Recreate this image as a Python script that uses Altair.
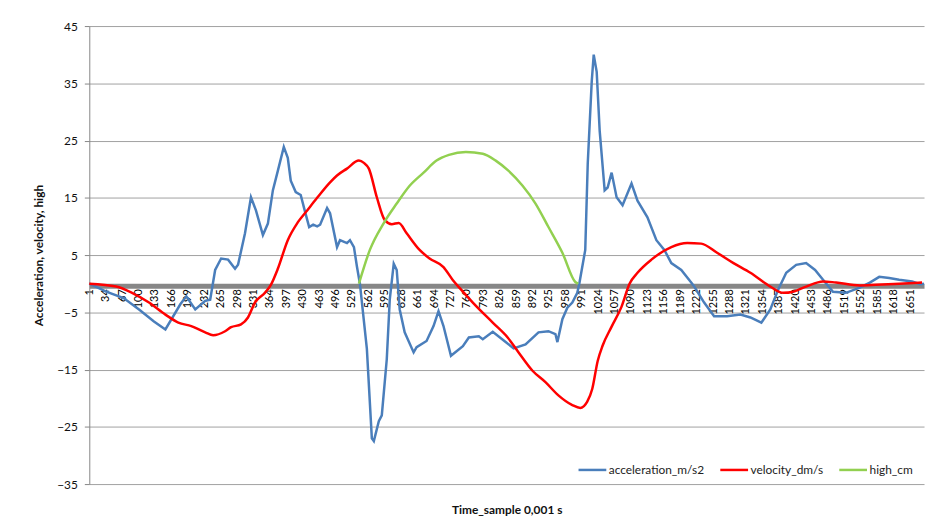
import altair as alt
import pandas as pd

# ---- data ----
acc_s = [1, 35, 70, 101, 131, 154, 184, 196, 214, 234, 244, 254, 266, 280, 294, 300, 314, 326, 336, 350,
         360, 370, 380, 392, 400, 406, 416, 426, 434, 443, 451, 459, 465, 479, 485, 499, 505, 519, 525, 533,
         539, 545, 559, 569, 573, 583, 589, 599, 605, 613, 619, 625, 635, 653, 659, 679, 693, 703, 713, 728,
         752, 764, 784, 792, 812, 838, 854, 878, 904, 924, 938, 942, 952, 962, 972, 982, 986, 998, 1003, 1011,
         1015, 1021, 1027, 1037, 1043, 1051, 1061, 1073, 1091, 1103, 1123, 1141, 1157, 1171, 1191, 1211, 1217,
         1237, 1257, 1283, 1310, 1330, 1352, 1370, 1386, 1402, 1422, 1442, 1460, 1476, 1496, 1522, 1550, 1570,
         1589, 1609, 1629, 1655, 1671, 1679]
acc_v = [0, -1.4, -2.5, -4.5, -6.6, -8, -3.6, -2.2, -4.5, -3, -2.8, 2.4, 4.4, 4.2, 2.6, 3.3, 8.8, 15.1, 12.8, 8.5,
         10.5, 16.3, 19.7, 23.9, 22, 18, 16, 15.5, 12.8, 9.9, 10.3, 10.0, 10.3, 13.2, 12.3, 6.4, 7.6, 7.1, 7.6, 6.4,
         3, 0, -11.4, -27, -27.5, -24, -23, -13.2, -2.8, 3.5, 2.4, -4.5, -8.5, -12, -11.1, -10, -7.4, -4.8, -7.4, -12.6,
         -10.9, -9.4, -9.2, -9.7, -8.4, -10.2, -11.3, -10.6, -8.5, -8.3, -8.8, -10.2, -6.2, -4.2, -3.3, -1.6, 0, 5.9, 21, 35.3,
         40, 37, 26.7, 16.3, 16.8, 19.4, 15.1, 13.7, 17.5, 14.5, 11.6, 7.6, 5.9, 3.6, 2.4, 0.2, -0.5,
         -3.3, -5.7, -5.7, -5.4, -5.9, -6.8, -4.5, -1, 1.9, 3.3, 3.6, 2.4, 0.7, -1.4, -1.6, -0.7, 0.2,
         1.2, 1.0, 0.7, 0.4, -0.1, 0]

vel_s = [1, 55, 87, 121, 154, 180, 206, 234, 250, 274, 286, 306, 320, 334, 354, 366, 380, 400, 420, 439,
         459, 485, 499, 519, 543, 553, 563, 579, 595, 609, 623, 639, 665, 685, 713, 732, 748, 772, 812, 842,
         864, 892, 918, 944, 972, 988, 1002, 1012, 1023, 1033, 1051, 1071, 1087, 1103, 1131, 1171, 1203, 1231,
         1263, 1296, 1330, 1370, 1396, 1416, 1442, 1476, 1502, 1550, 1582, 1629, 1675]
vel_v = [0, -0.5, -1.6, -3.3, -5.4, -6.8, -7.4, -8.5, -9, -8.3, -7.6, -7.1, -5.9, -3.3, -1.6, -0.2, 2.6, 7.6, 10.7, 12.8,
         15, 17.7, 18.9, 20.1, 21.5, 21.1, 20.1, 15.1, 11.1, 10.4, 10.6, 8.8, 5.9, 4.4, 2.9, 0.6, -1, -3.3, -6.8, -9.4,
         -12, -15.2, -17.2, -19.5, -21.2, -21.7, -20.6, -18.4, -13.5, -10.8, -7.5, -4, 0, 1.9, 4.2, 6.4, 7.1, 7.0,
         5.4, 3.6, 1.9, -0.5, -1.6, -1.4, -0.5, 0.4, 0.2, -0.3, -0.2, 0, 0.2]

high_s = [543, 565, 593, 619, 645, 673, 699, 724, 758, 792, 818, 844, 872, 898, 924, 952, 978, 984]
high_v = [0, 5.9, 10.6, 14, 17.1, 19.4, 21.5, 22.5, 23, 22.7, 21.5, 19.7, 17.1, 14, 9.9, 5.4, 0.3, 0]

x_ticks = [1, 34, 67, 100, 133, 166, 199, 232, 265, 298, 331, 364, 397, 430, 463, 496, 529, 562, 595, 628,
           661, 694, 727, 760, 793, 826, 859, 892, 925, 958, 991, 1024, 1057, 1090, 1123, 1156, 1189, 1222,
           1255, 1288, 1321, 1354, 1387, 1420, 1453, 1486, 1519, 1552, 1585, 1618, 1651]
y_ticks = [-35, -25, -15, -5, 5, 15, 25, 35, 45]

series_names = ["acceleration_m/s2", "velocity_dm/s", "high_cm"]
series_colors = ["#4a7ebb", "#ff0000", "#92d050"]

rows = []
for name, ss, vv in zip(series_names, [acc_s, vel_s, high_s], [acc_v, vel_v, high_v]):
    for s, v in zip(ss, vv):
        rows.append({"series": name, "sample": s, "value": v})
df = pd.DataFrame(rows)

FONT = "Lato"

x_enc = alt.X(
    "sample:Q",
    scale=alt.Scale(domain=[1, 1679], nice=False, zero=False),
    axis=alt.Axis(
        values=x_ticks, format="d", labelAngle=270, offset=-200,
        domainWidth=5, domainColor="#878787",
        ticks=False, tickSize=0, grid=False,
        labelFont=FONT, labelFontSize=11, labelColor="#000", labelPadding=3,
        labelOverlap=False, labelFlush=False,
        title="Time_sample 0,001 s", titleY=226, titleBaseline="middle",
        titleFont=FONT, titleFontSize=12, titleFontWeight="bold", titleColor="#111",
    ),
)
y_enc = alt.Y(
    "value:Q",
    scale=alt.Scale(domain=[-35, 45], nice=False, zero=False),
    axis=alt.Axis(
        values=y_ticks, grid=True, gridColor="#a0a0a0", gridWidth=1,
        domainColor="#878787", tickColor="#878787", tickSize=5,
        labelFont=FONT, labelFontSize=12, labelColor="#111", labelPadding=7,
        title="Acceleration, velocity, high", titlePadding=11,
        titleFont=FONT, titleFontSize=12, titleFontWeight="bold", titleColor="#111",
    ),
)
color_enc = alt.Color(
    "series:N",
    scale=alt.Scale(domain=series_names, range=series_colors),
    legend=alt.Legend(
        title=None, orient="none", legendX=492, legendY=432, direction="horizontal",
        symbolType="stroke", symbolStrokeWidth=2.5, symbolSize=784,
        labelFont=FONT, labelFontSize=12, labelColor="#222", labelOffset=1,
        columnPadding=10,
    ),
)

base = alt.Chart(df).encode(x=x_enc, y=y_enc, color=color_enc)

acc_line = base.transform_filter(alt.datum.series == series_names[0]).mark_line(strokeWidth=2.5, interpolate="linear")
smooth_lines = base.transform_filter(alt.datum.series != series_names[0]).mark_line(strokeWidth=2.5, interpolate="monotone")

chart = alt.layer(acc_line, smooth_lines).properties(
    width=842, height=462,
    autosize=alt.AutoSizeParams(type="none"),
    padding={"left": 82, "top": 16, "right": 3, "bottom": 31},
).configure_view(stroke=None)

chart.save("out.html", embed_options={"renderer": "svg", "actions": False})
